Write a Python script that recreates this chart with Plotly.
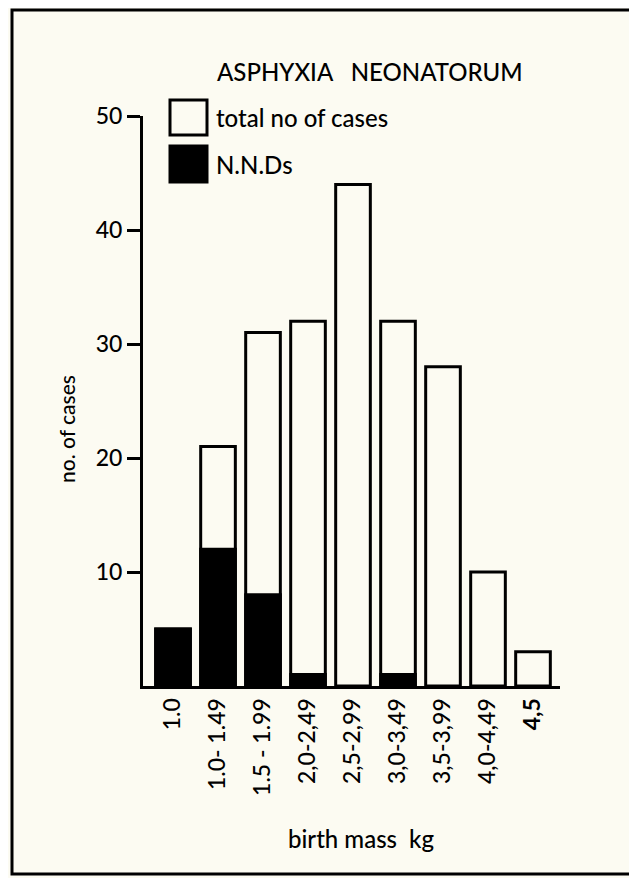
import plotly.graph_objects as go

categories = ["1.0", "1.0- 1.49", "1.5 - 1.99", "2,0-2,49", "2,5-2,99",
              "3,0-3,49", "3,5-3,99", "4,0-4,49", "<b>4,5</b>"]
total_cases = [5, 21, 31, 32, 44, 32, 28, 10, 3]
nnd_cases = [5, 12, 8, 1, 0, 1, 0, 0, 0]
y_ticks = [10, 20, 30, 40, 50]

OFF = 8  # default page body margin
W, H = 637 - OFF, 878 - OFF
L, R, T, B = 143 - OFF, 560 - OFF, 116 - OFF, 686 - OFF
FONT = "Lato"
WEIGHT = 500
BG = "#fcfbf2"


def px(x):
    return (x - OFF - L) / (R - L)


def py(y):
    return (B - (y - OFF)) / (B - T)


fig = go.Figure()
fig.add_trace(go.Bar(
    x=list(range(len(categories))), y=total_cases, width=0.77,
    marker=dict(color=BG, line=dict(color="black", width=3)),
    name="total no of cases", showlegend=False))
fig.add_trace(go.Bar(
    x=list(range(len(categories))), y=[v if v > 0 else None for v in nnd_cases], width=0.77,
    marker=dict(color="black", line=dict(color="black", width=3)),
    name="N.N.Ds", showlegend=False))

fig.update_layout(
    width=W, height=H,
    margin=dict(l=L, r=W - R, t=T, b=H - B, pad=0),
    paper_bgcolor=BG, plot_bgcolor=BG,
    barmode="overlay",
    font=dict(family=FONT, color="black", size=17, weight=WEIGHT),
    xaxis=dict(range=[-0.667, 8.6], tickmode="array",
               tickvals=list(range(len(categories))), ticktext=categories,
               tickangle=-90, showline=True, linecolor="black", linewidth=3,
               showgrid=False, zeroline=False, ticks="",
               tickfont=dict(family=FONT, size=23, color="black", weight=WEIGHT)),
    yaxis=dict(range=[0, 50], tickvals=y_ticks, showline=True, linecolor="black",
               linewidth=3, ticks="outside", ticklen=13, tickwidth=3, tickcolor="black",
               showgrid=False, zeroline=False,
               tickfont=dict(family=FONT, size=23, color="black", weight=WEIGHT)),
)

ann = [
    dict(text="ASPHYXIA&nbsp;&nbsp;&nbsp;NEONATORUM", x=px(370), y=py(72), size=24),
    dict(text="total no of cases", x=px(214), y=py(117), size=24, xanchor="left"),
    dict(text="N.N.Ds", x=px(214), y=py(164), size=24, xanchor="left"),
    dict(text="birth mass&nbsp;&nbsp;kg", x=px(361), y=py(838), size=24),
    dict(text="no. of cases", x=px(67), y=py(429), size=21, textangle=-90),
]
for a in ann:
    fig.add_annotation(text=a["text"], x=a["x"], y=a["y"], xref="paper", yref="paper",
                       showarrow=False, xanchor=a.get("xanchor", "center"), yanchor="middle",
                       textangle=a.get("textangle", 0),
                       font=dict(family=FONT, size=a["size"], color="black", weight=WEIGHT))

shapes = [
    dict(type="rect", x0=px(170), x1=px(207), y0=py(100), y1=py(135),
         line=dict(color="black", width=3), fillcolor=BG),
    dict(type="rect", x0=px(170), x1=px(207), y0=py(146), y1=py(182),
         line=dict(color="black", width=3), fillcolor="black"),
    dict(type="rect", x0=px(12), x1=px(631), y0=py(10), y1=py(874),
         line=dict(color="black", width=3)),
]
for s in shapes:
    fig.add_shape(xref="paper", yref="paper", **s)

fig.write_html("out.html")
